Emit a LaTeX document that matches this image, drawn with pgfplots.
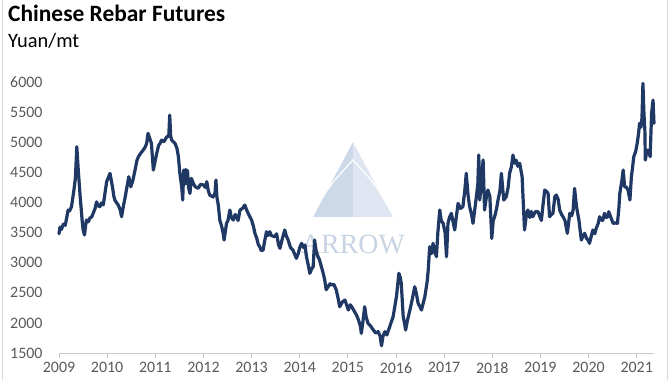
\documentclass[border=0pt]{standalone}
\usepackage{pgfplots}
\pgfplotsset{compat=1.18}
\usepackage{fontspec}
\setmainfont{Carlito}
\newfontfamily\wmfont{Liberation Serif}
\definecolor{navy}{RGB}{31,56,100}
\definecolor{ticktext}{RGB}{89,89,89}
\definecolor{axgray}{RGB}{200,200,200}
\definecolor{edgegray}{RGB}{217,217,217}
\definecolor{wmA}{RGB}{204,217,232}
\definecolor{wmB}{RGB}{224,230,241}
\definecolor{wmT}{RGB}{200,211,227}
\begin{document}
\begin{tikzpicture}
\useasboundingbox (0bp,0bp) rectangle (670bp,380bp);
\begin{scope}[x=1bp,y=1bp]
% frame edges
\draw[edgegray, line width=0.8bp] (2,0) -- (2,380);
\draw[edgegray, line width=0.8bp] (667,0) -- (667,380);
% watermark
\fill[wmA] (353,238) -- (313,163) -- (353,163) -- cycle;
\fill[wmB] (353,238) -- (353,163) -- (393,163) -- cycle;
\draw[white, line width=1.2bp] (315,170) .. controls (330,195) .. (353,220) .. controls (376,195) .. (390,170);
\node[anchor=base, text=wmT, font=\wmfont\fontsize{28}{30}\selectfont, inner sep=0] at (353,127) {ARROW};
% titles
\node[anchor=base west, inner sep=0, font=\fontsize{23.5}{26}\selectfont\bfseries] at (8,359) {Chinese Rebar Futures};
\node[anchor=base west, inner sep=0, font=\fontsize{20.5}{23}\selectfont] at (8,333) {Yuan/mt};
\end{scope}
\begin{axis}[
  at={(59bp,27bp)}, anchor=south west,
  scale only axis, width=595bp, height=271bp,
  xmin=2009, xmax=2021.36, ymin=1500, ymax=6000,
  axis line style={draw=none},
  axis x line*=bottom,
  xtick={2009,2010,2011,2012,2013,2014,2015,2016,2017,2018,2019,2020,2021},
  xticklabels={2009,2010,2011,2012,2013,2014,2015,2016,2017,2018,2019,2020,2021},
  ytick={1500,2000,2500,3000,3500,4000,4500,5000,5500,6000},
  tick align=outside,
  xtick style={draw=axgray, line width=0.8bp},
  major tick length=5bp,
  ytick style={draw=none},
  /pgf/number format/assume math mode=true,
  /pgf/number format/1000 sep={},
  tick label style={text=ticktext, font=\fontsize{16}{18}\selectfont},
  xticklabel style={yshift=-1bp},
  yticklabel style={xshift=-8bp},
  clip=false,
]
\draw[axgray, line width=0.8bp] (axis cs:2009,1500) -- (axis cs:2021.36,1500);
\addplot[navy, line width=3.2bp, line join=round, line cap=round] coordinates {
(2009.00,3480) (2009.02,3590) (2009.05,3550) (2009.09,3640) (2009.13,3620)
(2009.19,3874) (2009.22,3860) (2009.26,3930) (2009.31,4206) (2009.34,4400)
(2009.37,4925) (2009.40,4540) (2009.44,4095) (2009.48,3708) (2009.50,3550)
(2009.53,3460) (2009.55,3600) (2009.57,3708) (2009.61,3680) (2009.64,3740)
(2009.68,3760) (2009.71,3820) (2009.75,3900) (2009.78,4010) (2009.82,3940)
(2009.85,3930) (2009.88,3990) (2009.92,3960) (2009.99,4345) (2010.06,4483)
(2010.11,4260) (2010.14,4100) (2010.16,4040) (2010.20,3990) (2010.23,3957)
(2010.27,3880) (2010.30,3763) (2010.34,3950) (2010.37,4068) (2010.41,4250)
(2010.45,4427) (2010.49,4260) (2010.53,4350) (2010.58,4538) (2010.62,4700)
(2010.65,4760) (2010.70,4820) (2010.75,4870) (2010.79,4920) (2010.82,4980)
(2010.85,5147) (2010.89,5050) (2010.92,4980) (2010.96,4538) (2011.00,4700)
(2011.03,4815) (2011.07,4950) (2011.10,4980) (2011.13,5036) (2011.18,5010)
(2011.24,5090) (2011.28,5100) (2011.30,5450) (2011.32,5100) (2011.34,5036)
(2011.41,4980) (2011.45,4900) (2011.48,4760) (2011.51,4488) (2011.55,4250)
(2011.57,4040) (2011.59,4538) (2011.61,4300) (2011.63,4550) (2011.65,4317)
(2011.67,4530) (2011.69,4250) (2011.72,4150) (2011.75,4400) (2011.79,4317)
(2011.83,4260) (2011.89,4234) (2011.94,4300) (2012.00,4290) (2012.04,4250)
(2012.07,4345) (2012.10,4200) (2012.13,4123) (2012.20,4090) (2012.24,4150)
(2012.26,4372) (2012.28,4090) (2012.31,3950) (2012.34,3708) (2012.38,3600)
(2012.41,3487) (2012.43,3376) (2012.48,3653) (2012.51,3700) (2012.55,3874)
(2012.58,3750) (2012.62,3708) (2012.66,3800) (2012.69,3763) (2012.72,3700)
(2012.76,3874) (2012.81,3900) (2012.86,3957) (2012.90,3870) (2012.93,3819)
(2013.00,3708) (2013.04,3600) (2013.07,3487) (2013.11,3400) (2013.14,3300)
(2013.17,3265) (2013.20,3200) (2013.24,3210) (2013.27,3350) (2013.31,3514)
(2013.34,3450) (2013.38,3514) (2013.41,3450) (2013.48,3431) (2013.52,3480)
(2013.56,3300) (2013.59,3238) (2013.64,3400) (2013.69,3542) (2013.72,3450)
(2013.76,3376) (2013.81,3250) (2013.86,3210) (2013.93,3072) (2013.97,3150)
(2014.00,3250) (2014.04,3321) (2014.08,3250) (2014.11,3293) (2014.14,3100)
(2014.18,2950) (2014.21,2823) (2014.25,2900) (2014.28,2934) (2014.31,3376)
(2014.34,3200) (2014.38,3099) (2014.41,3050) (2014.45,2933) (2014.48,2850)
(2014.52,2712) (2014.55,2550) (2014.59,2600) (2014.63,2650) (2014.66,2630)
(2014.71,2640) (2014.76,2545) (2014.80,2400) (2014.83,2268) (2014.89,2350)
(2014.94,2380) (2015.01,2214) (2015.05,2300) (2015.08,2268) (2015.13,2200)
(2015.18,2130) (2015.22,2050) (2015.26,1950) (2015.28,1827) (2015.31,2000)
(2015.35,2268) (2015.38,2100) (2015.42,1993) (2015.47,1950) (2015.53,1882)
(2015.58,1830) (2015.63,1855) (2015.67,1780) (2015.70,1620) (2015.73,1780)
(2015.77,1854) (2015.81,1800) (2015.87,1937) (2015.94,2102) (2016.01,2435)
(2016.06,2823) (2016.09,2750) (2016.11,2657) (2016.15,2102) (2016.18,1980)
(2016.20,1882) (2016.24,2050) (2016.29,2214) (2016.34,2400) (2016.39,2600)
(2016.42,2500) (2016.46,2325) (2016.49,2280) (2016.53,2214) (2016.60,2435)
(2016.65,2700) (2016.67,2878) (2016.70,3265) (2016.74,3150) (2016.77,3321)
(2016.80,3200) (2016.84,3099) (2016.87,3500) (2016.91,3874) (2016.94,3700)
(2016.98,3653) (2017.02,3500) (2017.05,3099) (2017.08,3653) (2017.11,3750)
(2017.15,3819) (2017.18,3700) (2017.22,3542) (2017.26,3800) (2017.29,3985)
(2017.34,3900) (2017.39,3930) (2017.43,4200) (2017.46,4483) (2017.50,4100)
(2017.53,3930) (2017.57,3800) (2017.60,3653) (2017.64,3900) (2017.67,4095)
(2017.70,4300) (2017.72,4787) (2017.74,4040) (2017.77,4300) (2017.81,4705)
(2017.84,3874) (2017.88,4100) (2017.91,4206) (2017.95,4100) (2017.99,3403)
(2018.02,3700) (2018.05,3763) (2018.09,3900) (2018.12,4040) (2018.16,4200)
(2018.19,4483) (2018.22,4200) (2018.24,4040) (2018.29,4095) (2018.33,4250)
(2018.36,4483) (2018.40,4600) (2018.43,4787) (2018.47,4650) (2018.50,4700)
(2018.53,4600) (2018.57,4650) (2018.62,4427) (2018.65,3900) (2018.67,3542)
(2018.71,3800) (2018.74,3874) (2018.78,3750) (2018.81,3850) (2018.84,3763)
(2018.90,3850) (2018.95,3846) (2019.02,3700) (2019.06,4000) (2019.09,4206)
(2019.13,4180) (2019.16,4150) (2019.19,3763) (2019.23,3800) (2019.26,3819)
(2019.30,4095) (2019.33,4123) (2019.37,4050) (2019.40,3874) (2019.44,3800)
(2019.47,3763) (2019.51,3700) (2019.56,3487) (2019.61,3819) (2019.65,3780)
(2019.68,3874) (2019.71,4234) (2019.75,3930) (2019.80,3708) (2019.85,3376)
(2019.89,3450) (2019.92,3487) (2019.96,3400) (2019.99,3376) (2020.02,3321)
(2020.06,3450) (2020.09,3542) (2020.13,3480) (2020.16,3570) (2020.20,3650)
(2020.23,3763) (2020.27,3700) (2020.30,3708) (2020.33,3819) (2020.37,3750)
(2020.40,3763) (2020.42,3846) (2020.46,3760) (2020.51,3653) (2020.56,3660)
(2020.60,3653) (2020.63,3900) (2020.65,4150) (2020.69,4350) (2020.72,4538)
(2020.75,4260) (2020.79,4250) (2020.82,4206) (2020.86,4040) (2020.89,4427)
(2020.91,4550) (2020.94,4760) (2020.98,4850) (2021.01,4980) (2021.04,5150)
(2021.06,5313) (2021.09,5250) (2021.11,5400) (2021.13,5977) (2021.15,5500)
(2021.17,5202) (2021.18,4705) (2021.21,4850) (2021.24,4870) (2021.28,4760)
(2021.31,5480) (2021.34,5700) (2021.36,5313)
};
\end{axis}
\end{tikzpicture}
\end{document}
